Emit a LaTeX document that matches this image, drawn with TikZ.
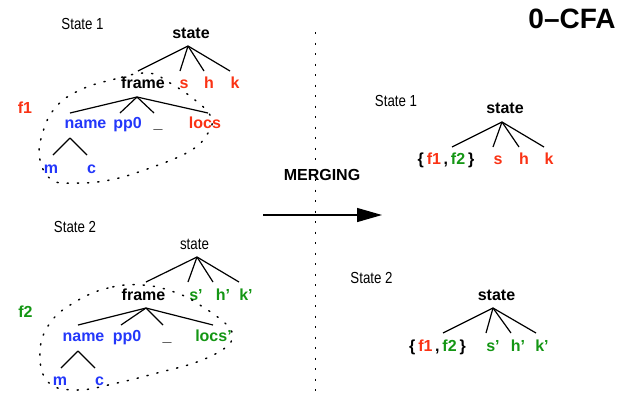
\documentclass[tikz,border=0pt]{standalone}
\usepackage{fontspec}
\setmainfont{Liberation Sans}
\usepackage{graphicx}
\usetikzlibrary{arrows.meta}

\definecolor{cfared}{RGB}{250,50,20}
\definecolor{cfablue}{RGB}{35,55,250}
\definecolor{cfagreen}{RGB}{20,150,20}
\newcommand{\narrowtxt}[1]{\scalebox{0.83}[1]{#1}}
\newcommand{\fset}{\{\kern3pt\textcolor{cfared}{f1}\kern2.5pt,\kern3pt\textcolor{cfagreen}{f2}\kern3pt\}}

\tikzset{
  boldlbl/.style={font=\bfseries\fontsize{16}{19}\selectfont,inner sep=0pt,anchor=base},
  normlbl/.style={font=\fontsize{16}{19}\selectfont,inner sep=0pt,anchor=base},
  treeline/.style={line width=1.2pt},
  blob/.style={line width=1.5pt,dash pattern=on 1.2pt off 9pt,line cap=round},
  sepline/.style={line width=1.4pt,dash pattern=on 2pt off 8.5pt}
}

\begin{document}
\begin{tikzpicture}[x=1pt,y=-1pt]
    \useasboundingbox (0,0) rectangle (628,392);

    % title
    \node[boldlbl,font=\bfseries\fontsize{28}{32}\selectfont] (title) at (572,28) {0--CFA};

    % left, state 1
    \node[normlbl] (cap1) at (82.5,29) {\narrowtxt{State 1}};
    \node[boldlbl] (st1) at (191,38) {state};
    \node[boldlbl] (fr1) at (143,88) {frame};
    \node[boldlbl,cfared] (sa) at (184,88) {s};
    \node[boldlbl,cfared] (ha) at (209,88) {h};
    \node[boldlbl,cfared] (ka) at (235,88) {k};
    \node[boldlbl,cfared] (fa) at (25,113) {f1};
    \node[boldlbl,cfablue] (nm1) at (85.5,128) {name};
    \node[boldlbl,cfablue] (pp1) at (127.5,128) {pp0};
    \node[boldlbl] (us1) at (158,128) {\_};
    \node[boldlbl,cfared] (lc1) at (205,128) {locs};
    \node[boldlbl,cfablue] (m1) at (51,173) {m};
    \node[boldlbl,cfablue] (c1) at (91.5,173) {c};
    \path[treeline]
        ([shift={(-3,8)}]st1.base) edge ([shift={(-5,-17)}]fr1.base)
            edge ([shift={(-4,-17)}]sa.base)
            edge ([shift={(-5,-17)}]ha.base)
            edge ([shift={(-5,-17)}]ka.base)
        ([shift={(-6,9)}]fr1.base) edge ([shift={(-15.5,-15)}]nm1.base)
            edge ([shift={(-7.5,-15)}]pp1.base)
            edge ([shift={(-4,-15)}]us1.base)
            edge ([shift={(3,-15)}]lc1.base)
        ([shift={(-15.5,10)}]nm1.base) edge ([shift={(2,-18)}]m1.base)
            edge ([shift={(-4.5,-18)}]c1.base);
    \draw[blob] plot[smooth cycle,tension=0.7] coordinates {(148,73) (115,79) (80,90) (55,108)
        (42,135) (40,160) (52,180) (75,183) (110,180) (150,168) (190,151) (208,133)
        (211,117) (195,100) (170,83)};

    % left, state 2
    \node[normlbl] (cap2) at (75,232) {\narrowtxt{State 2}};
    \node[normlbl] (st2) at (194.5,249) {\narrowtxt{state}};
    \node[boldlbl] (fr2) at (143.5,300) {frame};
    \node[boldlbl,cfagreen] (sb) at (196,300) {s’};
    \node[boldlbl,cfagreen] (hb) at (223,300) {h’};
    \node[boldlbl,cfagreen] (kb) at (246,300) {k’};
    \node[boldlbl,cfagreen] (fb) at (25.5,317) {f2};
    \node[boldlbl,cfablue] (nm2) at (83.5,341.5) {name};
    \node[boldlbl,cfablue] (pp2) at (127,341.5) {pp0};
    \node[boldlbl] (us2) at (167,341.5) {\_};
    \node[boldlbl,cfagreen] (lc2) at (213.5,341.5) {locs’};
    \node[boldlbl,cfablue] (m2) at (60,385) {m};
    \node[boldlbl,cfablue] (c2) at (99.5,385) {c};
    \path[treeline]
        ([shift={(2.5,8)}]st2.base) edge ([shift={(2.5,-18)}]fr2.base)
            edge ([shift={(-8,-18)}]sb.base)
            edge ([shift={(-10,-18)}]hb.base)
            edge ([shift={(-7,-18)}]kb.base)
        ([shift={(2.5,8)}]fr2.base) edge ([shift={(-5.5,-16.5)}]nm2.base)
            edge ([shift={(-6,-16.5)}]pp2.base)
            edge ([shift={(-4,-16.5)}]us2.base)
            edge ([shift={(-0.5,-16.5)}]lc2.base)
        ([shift={(-5.5,9.5)}]nm2.base) edge ([shift={(1,-17)}]m2.base)
            edge ([shift={(-4.5,-17)}]c2.base);
    \draw[blob] plot[smooth cycle,tension=0.7] coordinates {(143,285) (108,288) (75,302) (50,323)
        (40,352) (48,382) (77,390) (117,383) (157,373) (197,362) (225,348) (232,337)
        (227,325) (203,307) (177,293)};

    % separator and merging arrow
    \coordinate (vtop) at (315.5,32);
    \coordinate (vbot) at (315.5,392);
    \draw[sepline] (vtop) -- (vbot);
    \node[boldlbl] (mrg) at (322,180.5) {MERGING};
    \coordinate (arrs) at (263,215);
    \coordinate (arre) at (382,215);
    \draw[line width=1.3pt,-{Triangle[length=25pt,width=14pt]}] (arrs) -- (arre);

    % right, state 1
    \node[normlbl] (cap3) at (396,106) {\narrowtxt{State 1}};
    \node[boldlbl] (st3) at (505,113) {state};
    \node[boldlbl] (fs1) at (446,164) {\fset};
    \node[boldlbl,cfared] (sc) at (498,164) {s};
    \node[boldlbl,cfared] (hc) at (524,164) {h};
    \node[boldlbl,cfared] (kc) at (549,164) {k};
    \path[treeline]
        ([shift={(-3,9)}]st3.base) edge ([shift={(6,-17)}]fs1.base)
            edge ([shift={(-5,-17)}]sc.base)
            edge ([shift={(-5,-17)}]hc.base)
            edge ([shift={(-5,-17)}]kc.base);

    % right, state 2
    \node[normlbl] (cap4) at (371.5,283) {\narrowtxt{State 2}};
    \node[boldlbl] (st4) at (496.5,300) {state};
    \node[boldlbl] (fs2) at (437.5,351.5) {\fset};
    \node[boldlbl,cfagreen] (sd) at (493,351.5) {s’};
    \node[boldlbl,cfagreen] (hd) at (518,351.5) {h’};
    \node[boldlbl,cfagreen] (kd) at (542,351.5) {k’};
    \path[treeline]
        ([shift={(-3.5,8)}]st4.base) edge ([shift={(5.5,-18.5)}]fs2.base)
            edge ([shift={(-7,-18.5)}]sd.base)
            edge ([shift={(-7,-18.5)}]hd.base)
            edge ([shift={(-6,-18.5)}]kd.base);
\end{tikzpicture}
\end{document}
